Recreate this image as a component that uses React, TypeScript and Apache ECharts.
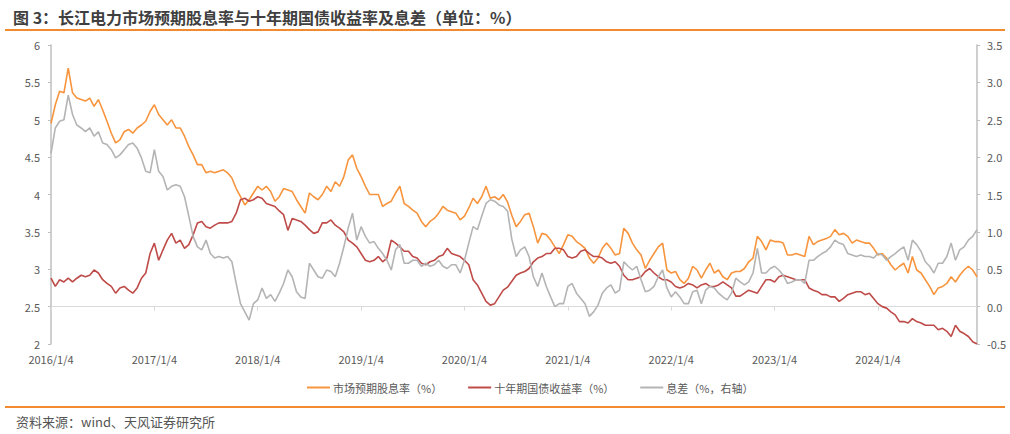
import React, { useEffect, useRef } from "react";
import * as echarts from "echarts";

const TITLE = "图 3：长江电力市场预期股息率与十年期国债收益率及息差（单位：%）";
const SOURCE = "资料来源：wind、天风证券研究所";
const SERIES_NAMES = ["市场预期股息率（%）", "十年期国债收益率（%）", "息差（%，右轴）"];
const YEARS = [2016, 2017, 2018, 2019, 2020, 2021, 2022, 2023, 2024];
const DAYS_IN_MONTH = [4, 19];

// 市场预期股息率 (left axis, %), twice a month
const dividendYield = [
  4.95, 5.20, 5.38, 5.36, 5.69, 5.36, 5.29, 5.27, 5.25, 5.29, 5.18, 5.27,
  5.13, 4.98, 4.82, 4.69, 4.73, 4.84, 4.87, 4.82, 4.89, 4.93, 4.98, 5.11,
  5.20, 5.07, 5.00, 4.93, 5.00, 4.89, 4.89, 4.78, 4.64, 4.53, 4.40, 4.40,
  4.29, 4.31, 4.29, 4.31, 4.33, 4.29, 4.22, 4.08, 3.97, 3.86, 3.93, 4.02,
  4.11, 4.06, 4.11, 4.04, 3.91, 3.97, 4.08, 4.06, 4.04, 3.93, 3.84, 3.75,
  4.02, 3.97, 3.93, 4.00, 4.11, 4.04, 4.17, 4.11, 4.24, 4.46, 4.53, 4.35,
  4.24, 4.11, 4.00, 4.00, 4.00, 3.84, 3.88, 3.91, 4.02, 4.11, 3.88, 3.84,
  3.79, 3.75, 3.64, 3.57, 3.64, 3.68, 3.75, 3.84, 3.79, 3.77, 3.75, 3.66,
  3.71, 3.82, 3.95, 3.88, 3.97, 4.11, 3.95, 3.97, 3.93, 4.00, 3.90, 3.72,
  3.57, 3.64, 3.73, 3.75, 3.57, 3.35, 3.48, 3.46, 3.39, 3.30, 3.21, 3.33,
  3.46, 3.44, 3.37, 3.33, 3.28, 3.15, 3.08, 3.15, 3.28, 3.35, 3.28, 3.19,
  3.21, 3.55, 3.48, 3.35, 3.26, 3.19, 3.01, 3.12, 3.21, 3.30, 3.35, 2.99,
  2.95, 2.97, 2.86, 2.81, 2.88, 3.04, 2.99, 2.88, 2.99, 3.08, 2.95, 2.99,
  2.90, 2.86, 2.95, 2.97, 2.97, 3.01, 3.10, 3.15, 3.44, 3.37, 3.26, 3.39,
  3.37, 3.37, 3.35, 3.19, 3.19, 3.21, 3.19, 3.17, 3.44, 3.33, 3.37, 3.39,
  3.41, 3.44, 3.53, 3.46, 3.48, 3.44, 3.35, 3.39, 3.37, 3.35, 3.35, 3.28,
  3.19, 3.21, 3.15, 3.06, 2.99, 3.04, 3.08, 2.95, 3.17, 2.99, 2.95, 2.86,
  2.77, 2.66, 2.75, 2.77, 2.81, 2.90, 2.83, 2.92, 2.99, 3.04, 2.99, 2.90,
];

// 十年期国债收益率 (left axis, %)
const bondYield = [
  2.88, 2.77, 2.86, 2.83, 2.88, 2.83, 2.88, 2.92, 2.90, 2.92, 2.99, 2.95,
  2.86, 2.81, 2.77, 2.68, 2.75, 2.77, 2.72, 2.68, 2.75, 2.88, 2.95, 3.21,
  3.35, 3.12, 3.26, 3.39, 3.48, 3.35, 3.39, 3.28, 3.33, 3.46, 3.62, 3.64,
  3.57, 3.55, 3.59, 3.62, 3.62, 3.62, 3.64, 3.75, 3.93, 3.95, 3.91, 3.93,
  3.97, 3.95, 3.88, 3.86, 3.84, 3.78, 3.73, 3.52, 3.68, 3.66, 3.64, 3.59,
  3.53, 3.48, 3.50, 3.62, 3.62, 3.66, 3.59, 3.55, 3.50, 3.39, 3.35, 3.30,
  3.21, 3.12, 3.10, 3.12, 3.17, 3.10, 3.15, 3.39, 3.35, 3.30, 3.24, 3.24,
  3.17, 3.15, 3.08, 3.06, 3.10, 3.12, 3.17, 3.19, 3.28, 3.21, 3.19, 3.17,
  3.12, 3.06, 2.86, 2.79, 2.68, 2.57, 2.52, 2.54, 2.63, 2.72, 2.76, 2.84,
  2.92, 2.95, 2.97, 3.01, 3.10, 3.15, 3.17, 3.21, 3.21, 3.28, 3.28, 3.26,
  3.17, 3.15, 3.17, 3.24, 3.26, 3.21, 3.17, 3.17, 3.15, 3.10, 3.08, 3.10,
  3.04, 2.92, 2.86, 2.86, 2.88, 2.90, 2.97, 3.01, 2.95, 2.90, 2.86, 2.86,
  2.83, 2.77, 2.75, 2.77, 2.81, 2.79, 2.75, 2.79, 2.81, 2.77, 2.77, 2.79,
  2.83, 2.79, 2.75, 2.64, 2.64, 2.68, 2.72, 2.70, 2.68, 2.77, 2.86, 2.86,
  2.83, 2.90, 2.92, 2.90, 2.88, 2.86, 2.86, 2.86, 2.75, 2.72, 2.70, 2.66,
  2.66, 2.63, 2.63, 2.57, 2.61, 2.66, 2.68, 2.70, 2.70, 2.66, 2.68, 2.61,
  2.54, 2.50, 2.48, 2.43, 2.39, 2.30, 2.30, 2.28, 2.34, 2.30, 2.28, 2.25,
  2.25, 2.25, 2.19, 2.21, 2.17, 2.10, 2.25, 2.17, 2.14, 2.10, 2.03, 2.00,
];

// 息差 (right axis, %)
const spread = [
  2.05, 2.39, 2.48, 2.50, 2.83, 2.57, 2.43, 2.39, 2.34, 2.39, 2.28, 2.34,
  2.19, 2.17, 2.10, 1.99, 2.03, 2.10, 2.17, 2.19, 2.12, 1.99, 1.81, 1.79,
  2.10, 1.81, 1.74, 1.56, 1.61, 1.63, 1.61, 1.47, 1.21, 0.94, 0.80, 0.76,
  0.89, 0.71, 0.65, 0.67, 0.65, 0.67, 0.60, 0.31, 0.04, -0.07, -0.18, 0.04,
  0.09, 0.25, 0.11, 0.16, 0.07, 0.18, 0.31, 0.49, 0.40, 0.20, 0.13, 0.11,
  0.58, 0.49, 0.40, 0.38, 0.49, 0.47, 0.40, 0.58, 0.80, 1.05, 1.25, 0.89,
  1.07, 0.94, 0.85, 0.87, 0.78, 0.71, 0.62, 0.49, 0.76, 0.83, 0.58, 0.58,
  0.62, 0.62, 0.54, 0.58, 0.54, 0.56, 0.62, 0.54, 0.51, 0.56, 0.56, 0.45,
  0.62, 0.85, 1.07, 1.03, 1.21, 1.38, 1.43, 1.41, 1.36, 1.34, 1.28, 0.90,
  0.67, 0.76, 0.80, 0.67, 0.40, 0.27, 0.45, 0.27, 0.13, 0.00, 0.04, 0.04,
  0.27, 0.31, 0.18, 0.11, 0.04, -0.13, -0.07, 0.02, 0.18, 0.25, 0.29, 0.18,
  0.22, 0.60, 0.54, 0.49, 0.54, 0.36, 0.20, 0.22, 0.27, 0.40, 0.49, 0.25,
  0.13, 0.20, 0.13, 0.04, 0.04, 0.20, 0.22, 0.04, 0.22, 0.27, 0.25, 0.18,
  0.13, 0.09, 0.18, 0.38, 0.33, 0.29, 0.33, 0.45, 0.78, 0.45, 0.45, 0.51,
  0.54, 0.49, 0.42, 0.31, 0.33, 0.36, 0.36, 0.31, 0.62, 0.62, 0.67, 0.71,
  0.74, 0.80, 0.89, 0.85, 0.83, 0.71, 0.69, 0.67, 0.69, 0.67, 0.67, 0.65,
  0.71, 0.69, 0.62, 0.67, 0.71, 0.76, 0.80, 0.62, 0.89, 0.83, 0.74, 0.60,
  0.54, 0.45, 0.58, 0.58, 0.67, 0.85, 0.62, 0.76, 0.80, 0.89, 0.94, 1.03,
];

const dates: string[] = [];
YEARS.forEach((y) => {
  for (let m = 1; m <= 12; m++) {
    DAYS_IN_MONTH.forEach((d) => dates.push(`${y}/${m}/${d}`));
  }
});
const isTick = (label: string) => /\/1\/4$/.test(label);

const FONT = "'Noto Sans CJK SC', 'Noto Sans', sans-serif";
const COLORS = ["#F7943E", "#BE4B48", "#B4B4B4"];

export default function App() {
  const ref = useRef<HTMLDivElement>(null);
  useEffect(() => {
    document.body.style.margin = "0";
    if (!ref.current) return;
    const chart = echarts.init(ref.current, undefined, { renderer: "svg" });
    chart.setOption({
      animation: false,
      textStyle: { fontFamily: FONT },
      color: COLORS,
      title: {
        text: TITLE,
        left: 8,
        top: 4,
        textStyle: { fontFamily: FONT, fontSize: 16, fontWeight: "bold", color: "#3F3F3F" },
      },
      graphic: [
        { type: "line", shape: { x1: 5, y1: 30, x2: 1005, y2: 30 }, style: { stroke: "#F28B30", lineWidth: 2 } },
        { type: "line", shape: { x1: 5, y1: 407, x2: 1005, y2: 407 }, style: { stroke: "#F28B30", lineWidth: 2 } },
        {
          type: "text",
          left: 16,
          top: 415,
          style: { text: SOURCE, fontFamily: FONT, fontSize: 13, fill: "#555555" },
        },
      ],
      legend: {
        left: 302,
        top: 377,
        itemWidth: 23,
        itemHeight: 2,
        itemGap: 26,
        icon: "rect",
        textStyle: { fontFamily: FONT, fontSize: 11, color: "#595959", padding: [0, 0, 0, -2] },
        data: SERIES_NAMES,
      },
      grid: { left: 51, right: 33, top: 45, bottom: 90, containLabel: false },
      xAxis: {
        type: "category",
        data: dates,
        boundaryGap: false,
        axisLine: { lineStyle: { color: "#D9D9D9", width: 1 } },
        axisTick: {
          show: true,
          length: 4,
          interval: (_i: number, v: string) => isTick(v),
          lineStyle: { color: "#D9D9D9" },
        },
        axisLabel: {
          interval: (_i: number, v: string) => isTick(v),
          color: "#595959",
          fontSize: 11,
          margin: 9,
          fontFamily: FONT,
        },
        splitLine: { show: false },
      },
      yAxis: [
        {
          type: "value",
          min: 2,
          max: 6,
          interval: 0.5,
          axisLine: { show: true, lineStyle: { color: "#BFBFBF", width: 1.5 } },
          axisTick: { show: true, length: 3, lineStyle: { color: "#BFBFBF" } },
          axisLabel: { color: "#595959", fontSize: 11, margin: 11, fontFamily: FONT },
          splitLine: { show: false },
        },
        {
          type: "value",
          min: -0.5,
          max: 3.5,
          interval: 0.5,
          position: "right",
          axisLine: { show: true, lineStyle: { color: "#BFBFBF", width: 1.5 } },
          axisTick: { show: true, length: 3, lineStyle: { color: "#BFBFBF" } },
          axisLabel: {
            color: "#595959",
            fontSize: 11,
            margin: 10,
            fontFamily: FONT,
            formatter: (v: number) => v.toFixed(1),
          },
          splitLine: { show: false },
        },
      ],
      series: [
        {
          name: SERIES_NAMES[0],
          type: "line",
          data: dividendYield,
          yAxisIndex: 0,
          showSymbol: false,
          lineStyle: { width: 1.6, color: COLORS[0] },
          itemStyle: { color: COLORS[0] },
        },
        {
          name: SERIES_NAMES[1],
          type: "line",
          data: bondYield,
          yAxisIndex: 0,
          showSymbol: false,
          lineStyle: { width: 1.6, color: COLORS[1] },
          itemStyle: { color: COLORS[1] },
        },
        {
          name: SERIES_NAMES[2],
          type: "line",
          data: spread,
          yAxisIndex: 1,
          showSymbol: false,
          lineStyle: { width: 1.6, color: COLORS[2] },
          itemStyle: { color: COLORS[2] },
        },
      ],
    });
    return () => chart.dispose();
  }, []);
  return <div ref={ref} style={{ width: 1010, height: 434 }} />;
}
